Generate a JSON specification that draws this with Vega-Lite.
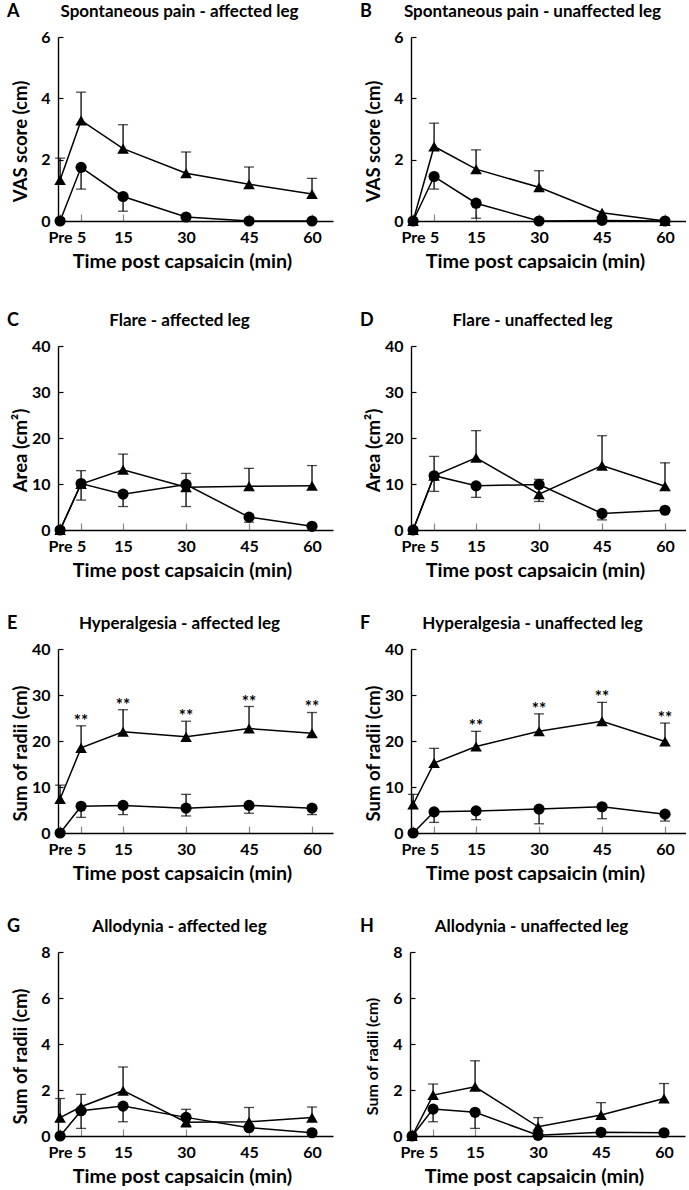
{
  "$schema": "https://vega.github.io/schema/vega-lite/v6.json",
  "padding": {"left": 7, "top": 3, "right": 0, "bottom": 0},
  "background": "white",
  "spacing": 41,
  "config": {
    "font": "Lato",
    "view": {"stroke": null},
    "title": {"font": "Lato", "fontWeight": "bold", "fontSize": 17, "color": "black"},
    "axis": {"grid": false, "domainColor": "black", "domainWidth": 1.4, "labelFont": "Lato", "labelFontWeight": "bold", "labelFontSize": 16, "labelColor": "black", "titleFont": "Lato", "titleFontWeight": "bold", "titleFontSize": 18.5, "titleColor": "black", "tickColor": "black", "labelOverlap": false, "labelFlush": false},
    "axisX": {"tickSize": -7, "tickColor": "#888", "tickWidth": 1.2, "labelPadding": 15, "titleFontSize": 19.7, "titleX": 124, "titleY": 40, "titleBaseline": "middle", "titleAlign": "center"},
    "axisY": {"tickSize": -5, "tickWidth": 1.2, "labelPadding": 13, "titleX": -38, "titleY": 104, "titleBaseline": "middle", "titleAlign": "center"}
  },
  "datasets": {
    "pts": [
      {"p":"A","g":"Patients","t":0,"m":1.34,"hi":2.05},
      {"p":"A","g":"Patients","t":5,"m":3.28,"hi":4.2},
      {"p":"A","g":"Patients","t":15,"m":2.36,"hi":3.14},
      {"p":"A","g":"Patients","t":30,"m":1.56,"hi":2.25},
      {"p":"A","g":"Patients","t":45,"m":1.2,"hi":1.76},
      {"p":"A","g":"Patients","t":60,"m":0.88,"hi":1.39},
      {"p":"A","g":"Controls","t":0,"m":0},
      {"p":"A","g":"Controls","t":5,"m":1.75,"lo":1.04},
      {"p":"A","g":"Controls","t":15,"m":0.8,"lo":0.32},
      {"p":"A","g":"Controls","t":30,"m":0.13},
      {"p":"A","g":"Controls","t":45,"m":0},
      {"p":"A","g":"Controls","t":60,"m":0},

      {"p":"B","g":"Patients","t":0,"m":0},
      {"p":"B","g":"Patients","t":5,"m":2.43,"hi":3.19},
      {"p":"B","g":"Patients","t":15,"m":1.69,"hi":2.32},
      {"p":"B","g":"Patients","t":30,"m":1.1,"hi":1.64},
      {"p":"B","g":"Patients","t":45,"m":0.27},
      {"p":"B","g":"Patients","t":60,"m":0},
      {"p":"B","g":"Controls","t":0,"m":0},
      {"p":"B","g":"Controls","t":5,"m":1.45,"lo":1.04},
      {"p":"B","g":"Controls","t":15,"m":0.58,"lo":0.09},
      {"p":"B","g":"Controls","t":30,"m":0},
      {"p":"B","g":"Controls","t":45,"m":0.02},
      {"p":"B","g":"Controls","t":60,"m":0},

      {"p":"C","g":"Patients","t":0,"m":0},
      {"p":"C","g":"Patients","t":5,"m":10.0,"hi":12.9},
      {"p":"C","g":"Patients","t":15,"m":13.1,"hi":16.5},
      {"p":"C","g":"Patients","t":30,"m":9.3,"hi":12.3},
      {"p":"C","g":"Patients","t":45,"m":9.5,"hi":13.4},
      {"p":"C","g":"Patients","t":60,"m":9.6,"hi":14.0},
      {"p":"C","g":"Controls","t":0,"m":0},
      {"p":"C","g":"Controls","t":5,"m":10.1,"lo":6.5},
      {"p":"C","g":"Controls","t":15,"m":7.8,"lo":5.1},
      {"p":"C","g":"Controls","t":30,"m":9.9,"lo":5.1},
      {"p":"C","g":"Controls","t":45,"m":2.8,"lo":1.7},
      {"p":"C","g":"Controls","t":60,"m":0.8},

      {"p":"D","g":"Patients","t":0,"m":0},
      {"p":"D","g":"Patients","t":5,"m":11.8,"hi":16.0},
      {"p":"D","g":"Patients","t":15,"m":15.7,"hi":21.6},
      {"p":"D","g":"Patients","t":30,"m":7.8,"lo":6.2},
      {"p":"D","g":"Patients","t":45,"m":14.0,"hi":20.5},
      {"p":"D","g":"Patients","t":60,"m":9.5,"hi":14.6},
      {"p":"D","g":"Controls","t":0,"m":0},
      {"p":"D","g":"Controls","t":5,"m":11.8,"lo":8.4},
      {"p":"D","g":"Controls","t":15,"m":9.6,"lo":7.1},
      {"p":"D","g":"Controls","t":30,"m":9.9,"hi":11.0},
      {"p":"D","g":"Controls","t":45,"m":3.6,"lo":2.2},
      {"p":"D","g":"Controls","t":60,"m":4.3},

      {"p":"E","g":"Patients","t":0,"m":7.4,"hi":10.4},
      {"p":"E","g":"Patients","t":5,"m":18.5,"hi":23.3,"sig":"**"},
      {"p":"E","g":"Patients","t":15,"m":22.0,"hi":26.8,"sig":"**"},
      {"p":"E","g":"Patients","t":30,"m":20.9,"hi":24.3,"sig":"**"},
      {"p":"E","g":"Patients","t":45,"m":22.7,"hi":27.5,"sig":"**"},
      {"p":"E","g":"Patients","t":60,"m":21.7,"hi":26.2,"sig":"**"},
      {"p":"E","g":"Controls","t":0,"m":0},
      {"p":"E","g":"Controls","t":5,"m":5.8,"lo":3.4},
      {"p":"E","g":"Controls","t":15,"m":6.0,"lo":4.0},
      {"p":"E","g":"Controls","t":30,"m":5.4,"lo":3.7,"hi":8.4},
      {"p":"E","g":"Controls","t":45,"m":6.0,"lo":4.3},
      {"p":"E","g":"Controls","t":60,"m":5.4,"lo":4.0},

      {"p":"F","g":"Patients","t":0,"m":6.2,"hi":8.4},
      {"p":"F","g":"Patients","t":5,"m":15.2,"hi":18.4},
      {"p":"F","g":"Patients","t":15,"m":18.8,"hi":22.1,"sig":"**"},
      {"p":"F","g":"Patients","t":30,"m":22.1,"hi":25.9,"sig":"**"},
      {"p":"F","g":"Patients","t":45,"m":24.3,"hi":28.4,"sig":"**"},
      {"p":"F","g":"Patients","t":60,"m":19.9,"hi":23.9,"sig":"**"},
      {"p":"F","g":"Controls","t":0,"m":0},
      {"p":"F","g":"Controls","t":5,"m":4.6,"lo":2.3},
      {"p":"F","g":"Controls","t":15,"m":4.8,"lo":2.9},
      {"p":"F","g":"Controls","t":30,"m":5.2,"lo":2.0},
      {"p":"F","g":"Controls","t":45,"m":5.7,"lo":3.1},
      {"p":"F","g":"Controls","t":60,"m":4.1,"lo":2.6},

      {"p":"G","g":"Patients","t":0,"m":0.8,"hi":1.63},
      {"p":"G","g":"Patients","t":5,"m":1.27,"hi":1.81},
      {"p":"G","g":"Patients","t":15,"m":1.97,"hi":3.0},
      {"p":"G","g":"Patients","t":30,"m":0.6,"lo":0.4},
      {"p":"G","g":"Patients","t":45,"m":0.62,"hi":1.24},
      {"p":"G","g":"Patients","t":60,"m":0.8,"hi":1.26},
      {"p":"G","g":"Controls","t":0,"m":0},
      {"p":"G","g":"Controls","t":5,"m":1.1,"lo":0.33},
      {"p":"G","g":"Controls","t":15,"m":1.3,"lo":0.62},
      {"p":"G","g":"Controls","t":30,"m":0.81,"hi":1.16},
      {"p":"G","g":"Controls","t":45,"m":0.36},
      {"p":"G","g":"Controls","t":60,"m":0.14},

      {"p":"H","g":"Patients","t":0,"m":0},
      {"p":"H","g":"Patients","t":5,"m":1.78,"hi":2.26},
      {"p":"H","g":"Patients","t":15,"m":2.14,"hi":3.27},
      {"p":"H","g":"Patients","t":30,"m":0.4,"hi":0.8},
      {"p":"H","g":"Patients","t":45,"m":0.91,"hi":1.45},
      {"p":"H","g":"Patients","t":60,"m":1.63,"hi":2.28},
      {"p":"H","g":"Controls","t":0,"m":0},
      {"p":"H","g":"Controls","t":5,"m":1.17,"lo":0.62},
      {"p":"H","g":"Controls","t":15,"m":1.03,"lo":0.33},
      {"p":"H","g":"Controls","t":30,"m":0.03},
      {"p":"H","g":"Controls","t":45,"m":0.16},
      {"p":"H","g":"Controls","t":60,"m":0.14}
    ]
  },
  "vconcat": [
    {"hconcat": [
      {"title": {"text": "A", "anchor": "start", "frame": "bounds", "offset": -18, "fontSize": 18, "dx": -4},
       "vconcat": [{
        "width": 275, "height": 184,
        "title": {"text": "Spontaneous pain - affected leg", "anchor": "middle", "frame": "group", "dx": -16, "offset": 8},
        "data": {"name": "pts"},
        "transform": [{"filter": "datum.p == 'A'"}],
        "encoding": {
          "x": {"field": "t", "type": "quantitative", "scale": {"domain": [-0.5, 65], "nice": false, "zero": false}, "axis": {"values": [0,5,15,30,45,60], "labelExpr": "datum.value == 0 ? 'Pre' : datum.label", "title": "Time post capsaicin (min)"}},
          "y": {"field": "m", "type": "quantitative", "title": "VAS score (cm)", "scale": {"domain": [0,6], "nice": false}, "axis": {"values": [0,2,4,6]}}
        },
        "layer": [
          {"transform": [{"filter": "isValid(datum.hi)"}], "mark": {"type": "rule", "color": "black", "strokeWidth": 1.3}, "encoding": {"y2": {"field": "hi"}}},
          {"transform": [{"filter": "isValid(datum.lo)"}], "mark": {"type": "rule", "color": "black", "strokeWidth": 1.3}, "encoding": {"y2": {"field": "lo"}}},
          {"transform": [{"filter": "isValid(datum.hi)"}], "mark": {"type": "tick", "orient": "horizontal", "color": "black", "size": 10, "thickness": 1.3}, "encoding": {"y": {"field": "hi", "type": "quantitative", "title": "VAS score (cm)", "scale": {"domain": [0,6], "nice": false}}}},
          {"transform": [{"filter": "isValid(datum.lo)"}], "mark": {"type": "tick", "orient": "horizontal", "color": "black", "size": 10, "thickness": 1.3}, "encoding": {"y": {"field": "lo", "type": "quantitative", "title": "VAS score (cm)", "scale": {"domain": [0,6], "nice": false}}}},
          {"mark": {"type": "line", "color": "black", "strokeWidth": 1.5}, "encoding": {"detail": {"field": "g"}}},
          {"transform": [{"filter": "datum.g == 'Patients'"}], "mark": {"type": "point", "shape": "triangle-up", "filled": true, "color": "black", "opacity": 1, "size": 135}, "encoding": {}},
          {"transform": [{"filter": "datum.g == 'Controls'"}], "mark": {"type": "point", "shape": "circle", "filled": true, "color": "black", "opacity": 1, "size": 125}, "encoding": {}}
        ]
      }]},
      {"title": {"text": "B", "anchor": "start", "frame": "bounds", "offset": -18, "fontSize": 18, "dx": -4},
       "vconcat": [{
        "width": 275, "height": 184,
        "title": {"text": "Spontaneous pain - unaffected leg", "anchor": "middle", "frame": "group", "dx": -16, "offset": 8},
        "data": {"name": "pts"},
        "transform": [{"filter": "datum.p == 'B'"}],
        "encoding": {
          "x": {"field": "t", "type": "quantitative", "scale": {"domain": [-0.5, 65], "nice": false, "zero": false}, "axis": {"values": [0,5,15,30,45,60], "labelExpr": "datum.value == 0 ? 'Pre' : datum.label", "title": "Time post capsaicin (min)"}},
          "y": {"field": "m", "type": "quantitative", "title": "VAS score (cm)", "scale": {"domain": [0,6], "nice": false}, "axis": {"values": [0,2,4,6]}}
        },
        "layer": [
          {"transform": [{"filter": "isValid(datum.hi)"}], "mark": {"type": "rule", "color": "black", "strokeWidth": 1.3}, "encoding": {"y2": {"field": "hi"}}},
          {"transform": [{"filter": "isValid(datum.lo)"}], "mark": {"type": "rule", "color": "black", "strokeWidth": 1.3}, "encoding": {"y2": {"field": "lo"}}},
          {"transform": [{"filter": "isValid(datum.hi)"}], "mark": {"type": "tick", "orient": "horizontal", "color": "black", "size": 10, "thickness": 1.3}, "encoding": {"y": {"field": "hi", "type": "quantitative", "title": "VAS score (cm)", "scale": {"domain": [0,6], "nice": false}}}},
          {"transform": [{"filter": "isValid(datum.lo)"}], "mark": {"type": "tick", "orient": "horizontal", "color": "black", "size": 10, "thickness": 1.3}, "encoding": {"y": {"field": "lo", "type": "quantitative", "title": "VAS score (cm)", "scale": {"domain": [0,6], "nice": false}}}},
          {"mark": {"type": "line", "color": "black", "strokeWidth": 1.5}, "encoding": {"detail": {"field": "g"}}},
          {"transform": [{"filter": "datum.g == 'Patients'"}], "mark": {"type": "point", "shape": "triangle-up", "filled": true, "color": "black", "opacity": 1, "size": 135}, "encoding": {}},
          {"transform": [{"filter": "datum.g == 'Controls'"}], "mark": {"type": "point", "shape": "circle", "filled": true, "color": "black", "opacity": 1, "size": 125}, "encoding": {}}
        ]
      }]}
    ], "spacing": 27},
    {"vconcat": [
    {"hconcat": [
      {"title": {"text": "C", "anchor": "start", "frame": "bounds", "offset": -18, "fontSize": 18, "dx": -4},
       "vconcat": [{
        "width": 275, "height": 184,
        "title": {"text": "Flare - affected leg", "anchor": "middle", "frame": "group", "dx": -16, "offset": 8},
        "data": {"name": "pts"},
        "transform": [{"filter": "datum.p == 'C'"}],
        "encoding": {
          "x": {"field": "t", "type": "quantitative", "scale": {"domain": [-0.5, 65], "nice": false, "zero": false}, "axis": {"values": [0,5,15,30,45,60], "labelExpr": "datum.value == 0 ? 'Pre' : datum.label", "title": "Time post capsaicin (min)"}},
          "y": {"field": "m", "type": "quantitative", "title": "Area (cm²)", "scale": {"domain": [0,40], "nice": false}, "axis": {"values": [0,10,20,30,40]}}
        },
        "layer": [
          {"transform": [{"filter": "isValid(datum.hi)"}], "mark": {"type": "rule", "color": "black", "strokeWidth": 1.3}, "encoding": {"y2": {"field": "hi"}}},
          {"transform": [{"filter": "isValid(datum.lo)"}], "mark": {"type": "rule", "color": "black", "strokeWidth": 1.3}, "encoding": {"y2": {"field": "lo"}}},
          {"transform": [{"filter": "isValid(datum.hi)"}], "mark": {"type": "tick", "orient": "horizontal", "color": "black", "size": 10, "thickness": 1.3}, "encoding": {"y": {"field": "hi", "type": "quantitative", "title": "Area (cm²)", "scale": {"domain": [0,40], "nice": false}}}},
          {"transform": [{"filter": "isValid(datum.lo)"}], "mark": {"type": "tick", "orient": "horizontal", "color": "black", "size": 10, "thickness": 1.3}, "encoding": {"y": {"field": "lo", "type": "quantitative", "title": "Area (cm²)", "scale": {"domain": [0,40], "nice": false}}}},
          {"mark": {"type": "line", "color": "black", "strokeWidth": 1.5}, "encoding": {"detail": {"field": "g"}}},
          {"transform": [{"filter": "datum.g == 'Patients'"}], "mark": {"type": "point", "shape": "triangle-up", "filled": true, "color": "black", "opacity": 1, "size": 135}, "encoding": {}},
          {"transform": [{"filter": "datum.g == 'Controls'"}], "mark": {"type": "point", "shape": "circle", "filled": true, "color": "black", "opacity": 1, "size": 125}, "encoding": {}}
        ]
      }]},
      {"title": {"text": "D", "anchor": "start", "frame": "bounds", "offset": -18, "fontSize": 18, "dx": -4},
       "vconcat": [{
        "width": 275, "height": 184,
        "title": {"text": "Flare - unaffected leg", "anchor": "middle", "frame": "group", "dx": -16, "offset": 8},
        "data": {"name": "pts"},
        "transform": [{"filter": "datum.p == 'D'"}],
        "encoding": {
          "x": {"field": "t", "type": "quantitative", "scale": {"domain": [-0.5, 65], "nice": false, "zero": false}, "axis": {"values": [0,5,15,30,45,60], "labelExpr": "datum.value == 0 ? 'Pre' : datum.label", "title": "Time post capsaicin (min)"}},
          "y": {"field": "m", "type": "quantitative", "title": "Area (cm²)", "scale": {"domain": [0,40], "nice": false}, "axis": {"values": [0,10,20,30,40]}}
        },
        "layer": [
          {"transform": [{"filter": "isValid(datum.hi)"}], "mark": {"type": "rule", "color": "black", "strokeWidth": 1.3}, "encoding": {"y2": {"field": "hi"}}},
          {"transform": [{"filter": "isValid(datum.lo)"}], "mark": {"type": "rule", "color": "black", "strokeWidth": 1.3}, "encoding": {"y2": {"field": "lo"}}},
          {"transform": [{"filter": "isValid(datum.hi)"}], "mark": {"type": "tick", "orient": "horizontal", "color": "black", "size": 10, "thickness": 1.3}, "encoding": {"y": {"field": "hi", "type": "quantitative", "title": "Area (cm²)", "scale": {"domain": [0,40], "nice": false}}}},
          {"transform": [{"filter": "isValid(datum.lo)"}], "mark": {"type": "tick", "orient": "horizontal", "color": "black", "size": 10, "thickness": 1.3}, "encoding": {"y": {"field": "lo", "type": "quantitative", "title": "Area (cm²)", "scale": {"domain": [0,40], "nice": false}}}},
          {"mark": {"type": "line", "color": "black", "strokeWidth": 1.5}, "encoding": {"detail": {"field": "g"}}},
          {"transform": [{"filter": "datum.g == 'Patients'"}], "mark": {"type": "point", "shape": "triangle-up", "filled": true, "color": "black", "opacity": 1, "size": 135}, "encoding": {}},
          {"transform": [{"filter": "datum.g == 'Controls'"}], "mark": {"type": "point", "shape": "circle", "filled": true, "color": "black", "opacity": 1, "size": 125}, "encoding": {}}
        ]
      }]}
    ], "spacing": 27},
    {"hconcat": [
      {"title": {"text": "E", "anchor": "start", "frame": "bounds", "offset": -18, "fontSize": 18, "dx": -4},
       "vconcat": [{
        "width": 275, "height": 184,
        "title": {"text": "Hyperalgesia - affected leg", "anchor": "middle", "frame": "group", "dx": -16, "offset": 8},
        "data": {"name": "pts"},
        "transform": [{"filter": "datum.p == 'E'"}],
        "encoding": {
          "x": {"field": "t", "type": "quantitative", "scale": {"domain": [-0.5, 65], "nice": false, "zero": false}, "axis": {"values": [0,5,15,30,45,60], "labelExpr": "datum.value == 0 ? 'Pre' : datum.label", "title": "Time post capsaicin (min)"}},
          "y": {"field": "m", "type": "quantitative", "title": "Sum of radii (cm)", "scale": {"domain": [0,40], "nice": false}, "axis": {"values": [0,10,20,30,40]}}
        },
        "layer": [
          {"transform": [{"filter": "isValid(datum.hi)"}], "mark": {"type": "rule", "color": "black", "strokeWidth": 1.3}, "encoding": {"y2": {"field": "hi"}}},
          {"transform": [{"filter": "isValid(datum.lo)"}], "mark": {"type": "rule", "color": "black", "strokeWidth": 1.3}, "encoding": {"y2": {"field": "lo"}}},
          {"transform": [{"filter": "isValid(datum.hi)"}], "mark": {"type": "tick", "orient": "horizontal", "color": "black", "size": 10, "thickness": 1.3}, "encoding": {"y": {"field": "hi", "type": "quantitative", "title": "Sum of radii (cm)", "scale": {"domain": [0,40], "nice": false}}}},
          {"transform": [{"filter": "isValid(datum.lo)"}], "mark": {"type": "tick", "orient": "horizontal", "color": "black", "size": 10, "thickness": 1.3}, "encoding": {"y": {"field": "lo", "type": "quantitative", "title": "Sum of radii (cm)", "scale": {"domain": [0,40], "nice": false}}}},
          {"mark": {"type": "line", "color": "black", "strokeWidth": 1.5}, "encoding": {"detail": {"field": "g"}}},
          {"transform": [{"filter": "datum.g == 'Patients'"}], "mark": {"type": "point", "shape": "triangle-up", "filled": true, "color": "black", "opacity": 1, "size": 135}, "encoding": {}},
          {"transform": [{"filter": "datum.g == 'Controls'"}], "mark": {"type": "point", "shape": "circle", "filled": true, "color": "black", "opacity": 1, "size": 125}, "encoding": {}},
          {"transform": [{"filter": "isValid(datum.sig)"}], "mark": {"type": "text", "font": "Lato", "fontSize": 17, "fontWeight": "bold", "fill": "black", "baseline": "alphabetic", "dy": 1}, "encoding": {"y": {"field": "hi", "type": "quantitative", "title": "Sum of radii (cm)", "scale": {"domain": [0,40], "nice": false}}, "text": {"field": "sig"}}}
        ]
      }]},
      {"title": {"text": "F", "anchor": "start", "frame": "bounds", "offset": -18, "fontSize": 18, "dx": -4},
       "vconcat": [{
        "width": 275, "height": 184,
        "title": {"text": "Hyperalgesia - unaffected leg", "anchor": "middle", "frame": "group", "dx": -16, "offset": 8},
        "data": {"name": "pts"},
        "transform": [{"filter": "datum.p == 'F'"}],
        "encoding": {
          "x": {"field": "t", "type": "quantitative", "scale": {"domain": [-0.5, 65], "nice": false, "zero": false}, "axis": {"values": [0,5,15,30,45,60], "labelExpr": "datum.value == 0 ? 'Pre' : datum.label", "title": "Time post capsaicin (min)"}},
          "y": {"field": "m", "type": "quantitative", "title": "Sum of radii (cm)", "scale": {"domain": [0,40], "nice": false}, "axis": {"values": [0,10,20,30,40]}}
        },
        "layer": [
          {"transform": [{"filter": "isValid(datum.hi)"}], "mark": {"type": "rule", "color": "black", "strokeWidth": 1.3}, "encoding": {"y2": {"field": "hi"}}},
          {"transform": [{"filter": "isValid(datum.lo)"}], "mark": {"type": "rule", "color": "black", "strokeWidth": 1.3}, "encoding": {"y2": {"field": "lo"}}},
          {"transform": [{"filter": "isValid(datum.hi)"}], "mark": {"type": "tick", "orient": "horizontal", "color": "black", "size": 10, "thickness": 1.3}, "encoding": {"y": {"field": "hi", "type": "quantitative", "title": "Sum of radii (cm)", "scale": {"domain": [0,40], "nice": false}}}},
          {"transform": [{"filter": "isValid(datum.lo)"}], "mark": {"type": "tick", "orient": "horizontal", "color": "black", "size": 10, "thickness": 1.3}, "encoding": {"y": {"field": "lo", "type": "quantitative", "title": "Sum of radii (cm)", "scale": {"domain": [0,40], "nice": false}}}},
          {"mark": {"type": "line", "color": "black", "strokeWidth": 1.5}, "encoding": {"detail": {"field": "g"}}},
          {"transform": [{"filter": "datum.g == 'Patients'"}], "mark": {"type": "point", "shape": "triangle-up", "filled": true, "color": "black", "opacity": 1, "size": 135}, "encoding": {}},
          {"transform": [{"filter": "datum.g == 'Controls'"}], "mark": {"type": "point", "shape": "circle", "filled": true, "color": "black", "opacity": 1, "size": 125}, "encoding": {}},
          {"transform": [{"filter": "isValid(datum.sig)"}], "mark": {"type": "text", "font": "Lato", "fontSize": 17, "fontWeight": "bold", "fill": "black", "baseline": "alphabetic", "dy": 1}, "encoding": {"y": {"field": "hi", "type": "quantitative", "title": "Sum of radii (cm)", "scale": {"domain": [0,40], "nice": false}}, "text": {"field": "sig"}}}
        ]
      }]}
    ], "spacing": 27},
    {"hconcat": [
      {"title": {"text": "G", "anchor": "start", "frame": "bounds", "offset": -18, "fontSize": 18, "dx": -4},
       "vconcat": [{
        "width": 275, "height": 184,
        "title": {"text": "Allodynia - affected leg", "anchor": "middle", "frame": "group", "dx": -16, "offset": 8},
        "data": {"name": "pts"},
        "transform": [{"filter": "datum.p == 'G'"}],
        "encoding": {
          "x": {"field": "t", "type": "quantitative", "scale": {"domain": [-0.5, 65], "nice": false, "zero": false}, "axis": {"values": [0,5,15,30,45,60], "labelExpr": "datum.value == 0 ? 'Pre' : datum.label", "title": "Time post capsaicin (min)"}},
          "y": {"field": "m", "type": "quantitative", "title": "Sum of radii (cm)", "scale": {"domain": [0,8], "nice": false}, "axis": {"values": [0,2,4,6,8]}}
        },
        "layer": [
          {"transform": [{"filter": "isValid(datum.hi)"}], "mark": {"type": "rule", "color": "black", "strokeWidth": 1.3}, "encoding": {"y2": {"field": "hi"}}},
          {"transform": [{"filter": "isValid(datum.lo)"}], "mark": {"type": "rule", "color": "black", "strokeWidth": 1.3}, "encoding": {"y2": {"field": "lo"}}},
          {"transform": [{"filter": "isValid(datum.hi)"}], "mark": {"type": "tick", "orient": "horizontal", "color": "black", "size": 10, "thickness": 1.3}, "encoding": {"y": {"field": "hi", "type": "quantitative", "title": "Sum of radii (cm)", "scale": {"domain": [0,8], "nice": false}}}},
          {"transform": [{"filter": "isValid(datum.lo)"}], "mark": {"type": "tick", "orient": "horizontal", "color": "black", "size": 10, "thickness": 1.3}, "encoding": {"y": {"field": "lo", "type": "quantitative", "title": "Sum of radii (cm)", "scale": {"domain": [0,8], "nice": false}}}},
          {"mark": {"type": "line", "color": "black", "strokeWidth": 1.5}, "encoding": {"detail": {"field": "g"}}},
          {"transform": [{"filter": "datum.g == 'Patients'"}], "mark": {"type": "point", "shape": "triangle-up", "filled": true, "color": "black", "opacity": 1, "size": 135}, "encoding": {}},
          {"transform": [{"filter": "datum.g == 'Controls'"}], "mark": {"type": "point", "shape": "circle", "filled": true, "color": "black", "opacity": 1, "size": 125}, "encoding": {}}
        ]
      }]},
      {"title": {"text": "H", "anchor": "start", "frame": "bounds", "offset": -18, "fontSize": 18, "dx": -4},
       "vconcat": [{
        "width": 275, "height": 184,
        "title": {"text": "Allodynia - unaffected leg", "anchor": "middle", "frame": "group", "dx": -16, "offset": 8},
        "data": {"name": "pts"},
        "transform": [{"filter": "datum.p == 'H'"}],
        "encoding": {
          "x": {"field": "t", "type": "quantitative", "scale": {"domain": [-0.5, 65], "nice": false, "zero": false}, "axis": {"values": [0,5,15,30,45,60], "labelExpr": "datum.value == 0 ? 'Pre' : datum.label", "title": "Time post capsaicin (min)"}},
          "y": {"field": "m", "type": "quantitative", "title": "Sum of radii (cm)", "scale": {"domain": [0,8], "nice": false}, "axis": {"values": [0,2,4,6,8], "titleFontSize": 16}}
        },
        "layer": [
          {"transform": [{"filter": "isValid(datum.hi)"}], "mark": {"type": "rule", "color": "black", "strokeWidth": 1.3}, "encoding": {"y2": {"field": "hi"}}},
          {"transform": [{"filter": "isValid(datum.lo)"}], "mark": {"type": "rule", "color": "black", "strokeWidth": 1.3}, "encoding": {"y2": {"field": "lo"}}},
          {"transform": [{"filter": "isValid(datum.hi)"}], "mark": {"type": "tick", "orient": "horizontal", "color": "black", "size": 10, "thickness": 1.3}, "encoding": {"y": {"field": "hi", "type": "quantitative", "title": "Sum of radii (cm)", "scale": {"domain": [0,8], "nice": false}}}},
          {"transform": [{"filter": "isValid(datum.lo)"}], "mark": {"type": "tick", "orient": "horizontal", "color": "black", "size": 10, "thickness": 1.3}, "encoding": {"y": {"field": "lo", "type": "quantitative", "title": "Sum of radii (cm)", "scale": {"domain": [0,8], "nice": false}}}},
          {"mark": {"type": "line", "color": "black", "strokeWidth": 1.5}, "encoding": {"detail": {"field": "g"}}},
          {"transform": [{"filter": "datum.g == 'Patients'"}], "mark": {"type": "point", "shape": "triangle-up", "filled": true, "color": "black", "opacity": 1, "size": 135}, "encoding": {}},
          {"transform": [{"filter": "datum.g == 'Controls'"}], "mark": {"type": "point", "shape": "circle", "filled": true, "color": "black", "opacity": 1, "size": 125}, "encoding": {}}
        ]
      }]}
    ], "spacing": 27}
    ], "spacing": 35}
  ]
}
